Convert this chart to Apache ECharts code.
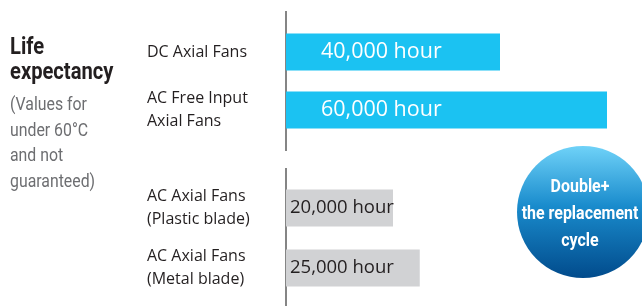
<!DOCTYPE html>
<html>
<head>
<meta charset="utf-8">
<script src="https://cdn.jsdelivr.net/npm/echarts@6/dist/echarts.min.js"></script>
<style>
html,body{margin:0;padding:0;background:#fff;}
#chart{width:642px;height:306px;}
</style>
</head>
<body>
<div id="chart"></div>
<script>
var newFans = ['DC Axial Fans', 'AC Free Input\nAxial Fans'];
var newHours = [40000, 60000];
var oldFans = ['AC Axial Fans\n(Plastic blade)', 'AC Axial Fans\n(Metal blade)'];
var oldHours = [20000, 25000];
var noteLines = ['(Values for', 'under 60°C', 'and not', 'guaranteed)'];
var badgeLines = ['Double+', 'the replacement', 'cycle'];

var plain = '"Open Sans", sans-serif';

function hourText(p){
	return p.value.toLocaleString('en-US') + ' hour';
}

function catAxis(idx, cats){
	return {
		type: 'category',
		gridIndex: idx,
		data: cats,
		inverse: true,
		axisLine: {show: false},
		axisTick: {show: false},
		axisLabel: {
			align: 'left',
			margin: 139,
			color: '#231f20',
			fontFamily: plain,
			fontSize: 16,
			lineHeight: 23
		}
	};
}

function valAxis(idx){
	return {
		type: 'value',
		gridIndex: idx,
		min: 0,
		max: 60000,
		show: false
	};
}

var myChart = echarts.init(document.getElementById('chart'));
var option = {
	animation: false,
	grid: [
		{left: 286, top: 23, width: 321, height: 116},
		{left: 286, top: 178, width: 321, height: 120}
	],
	xAxis: [valAxis(0), valAxis(1)],
	yAxis: [catAxis(0, newFans), catAxis(1, oldFans)],
	series: [{
		type: 'bar',
		xAxisIndex: 0,
		yAxisIndex: 0,
		data: newHours,
		barWidth: 37,
		itemStyle: {color: '#1bc2f2'},
		label: {
			show: true,
			position: 'insideLeft',
			distance: 35,
			formatter: hourText,
			color: '#fff',
			fontFamily: plain,
			fontSize: 21.5
		}
	}, {
		type: 'bar',
		xAxisIndex: 1,
		yAxisIndex: 1,
		data: oldHours,
		barWidth: 37,
		itemStyle: {color: '#d1d2d4'},
		label: {
			show: true,
			position: 'insideLeft',
			distance: 4,
			formatter: hourText,
			color: '#231f20',
			fontFamily: plain,
			fontSize: 18.5
		}
	}],
	graphic: [
		// split axis line
		{type: 'line', shape: {x1: 286, y1: 11, x2: 286, y2: 151}, style: {stroke: '#858585', lineWidth: 2}},
		{type: 'line', shape: {x1: 286, y1: 168, x2: 286, y2: 306}, style: {stroke: '#858585', lineWidth: 2}},
		// left titles, squeezed to look condensed
		{type: 'text', x: 10, y: 35, scaleX: 0.84,
			style: {text: 'Life\nexpectancy', fill: '#231f20', font: 'bold 24px Roboto', lineHeight: 25, verticalAlign: 'top'}},
		{type: 'text', x: 10, y: 93, scaleX: 0.88,
			style: {text: noteLines.join('\n'), fill: '#6d6e71', font: '18px Roboto', lineHeight: 25.5, verticalAlign: 'top'}},
		// badge
		{
			type: 'circle',
			shape: {cx: 583, cy: 212, r: 66},
			style: {
				fill: new echarts.graphic.LinearGradient(0, 0, 0, 1, [
					{offset: 0, color: '#6fd2f8'},
					{offset: 0.45, color: '#1a8ccd'},
					{offset: 1, color: '#014b8c'}
				])
			}
		},
		{type: 'text', x: 580, y: 214, scaleX: 0.84,
			style: {
				text: badgeLines.join('\n'),
				fill: '#fff',
				font: 'bold 19px Roboto',
				lineHeight: 27,
				align: 'center',
				verticalAlign: 'middle'
			}
		}
	]
};
myChart.setOption(option);
</script>
</body>
</html>
